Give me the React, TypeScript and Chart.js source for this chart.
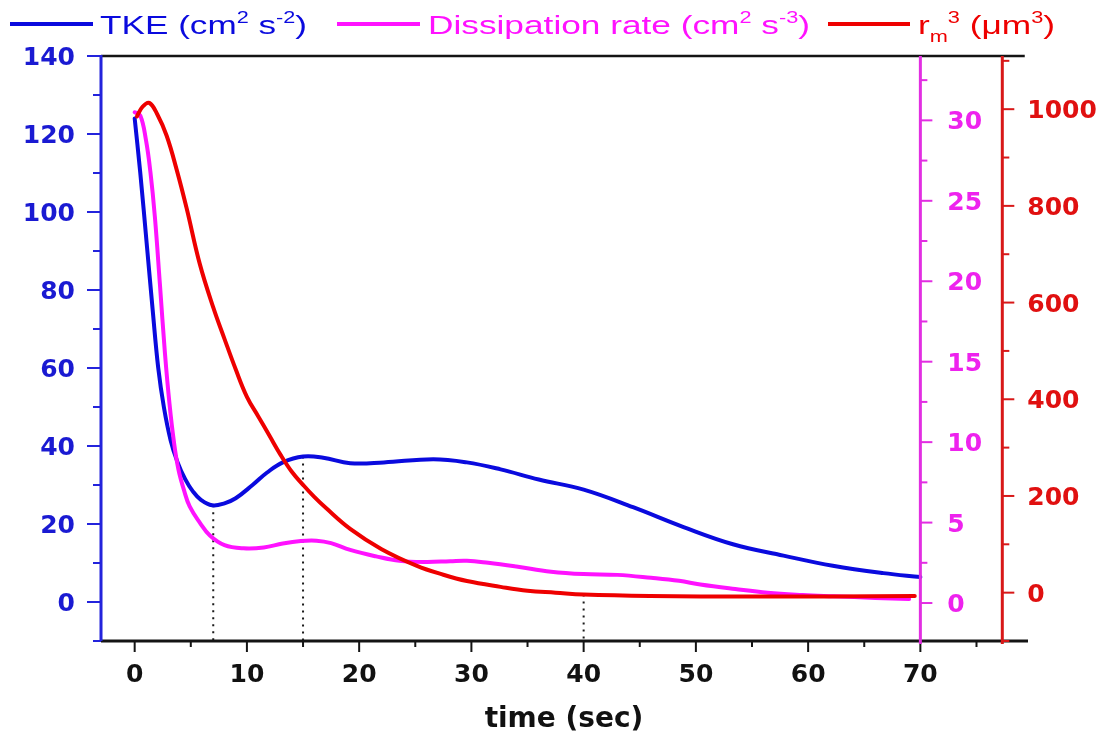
import React, { useEffect, useRef } from "react";
import { Chart, registerables } from "chart.js";

Chart.register(...registerables);

// ---- axis ranges ----
const TIME_MIN = -3;
const TIME_MAX = 79.5;
const TKE_MIN = -10;
const TKE_MAX = 140;
const DISS_MIN = -2.36;
const DISS_MAX = 34;
const RM3_MIN = -100;
const RM3_MAX = 1110;
const RM3_AXIS_AT = 77.3; // time value where the r_m^3 axis sits
const DISS_AXIS_AT = 70; // time value where the dissipation axis sits

// ---- tick values ----
const timeMajor = [0, 10, 20, 30, 40, 50, 60, 70];
const timeMinor = [5, 15, 25, 35, 45, 55, 65, 75];
const tkeMajor = [0, 20, 40, 60, 80, 100, 120, 140];
const tkeMinor = [-10, 10, 30, 50, 70, 90, 110, 130];
const dissMajor = [0, 5, 10, 15, 20, 25, 30];
const dissMinor = [2.5, 7.5, 12.5, 17.5, 22.5, 27.5, 32.5];
const rm3Major = [0, 200, 400, 600, 800, 1000];
const rm3Minor = [-100, 100, 300, 500, 700, 900, 1100];

// ---- TKE (cm^2 s^-2) ----
const tkeTime = [0, 0.5, 1.1, 1.6, 2.1, 2.6, 3.2, 3.8, 4.5, 5.2, 5.9, 6.9, 8.0, 9.0, 10.5, 11.8, 13.2, 15, 16.8, 19.2, 22.2, 26.6, 29.6, 32.6, 36, 40, 44.4, 48.9, 53.3, 57.8, 62.2, 66.7, 70];
const tkeValues = [124, 110, 91, 75, 60, 50, 41.5, 36, 31.5, 28.3, 26.2, 24.8, 25.3, 26.6, 30, 33.2, 35.8, 37.3, 37.0, 35.6, 35.8, 36.6, 35.8, 34.0, 31.4, 28.8, 24.3, 19.2, 14.8, 11.9, 9.3, 7.4, 6.4];

// ---- Dissipation rate (cm^2 s^-3) ----
const dissTime = [0, 0.5, 1.0, 1.4, 1.8, 2.25, 2.7, 3.1, 3.5, 3.9, 4.4, 4.9, 5.8, 6.7, 8.0, 9.7, 11.5, 13.2, 14.8, 16.2, 17.5, 19.2, 21.5, 23.6, 26.0, 28.1, 29.6, 31.5, 34.0, 37.1, 40.0, 43.0, 46.0, 48.5, 50.4, 53.5, 56.4, 59.5, 62.2, 66.0, 69.0];
const dissValues = [30.5, 30.3, 28.8, 26.8, 24.0, 19.8, 15.5, 12.4, 10.0, 8.3, 7.0, 6.0, 5.0, 4.2, 3.6, 3.4, 3.45, 3.7, 3.85, 3.87, 3.72, 3.3, 2.9, 2.62, 2.55, 2.6, 2.63, 2.5, 2.27, 1.95, 1.8, 1.75, 1.57, 1.38, 1.15, 0.87, 0.64, 0.5, 0.42, 0.32, 0.25];

// ---- r_m^3 (um^3) ----
const rm3Time = [0.2, 0.7, 1.3, 2.0, 2.85, 3.74, 4.63, 5.8, 7.0, 8.0, 9.0, 10.0, 11.0, 12.0, 13.0, 14.0, 15.0, 16.0, 17.0, 19.2, 22.0, 25.1, 27.5, 29.6, 32.6, 35.0, 37.5, 40.0, 45.9, 55.0, 62.0, 69.5];
const rm3Values = [985, 1005, 1013, 990, 945, 875, 795, 680, 590, 525, 462, 405, 365, 325, 285, 250, 223, 198, 176, 132, 90, 56, 37, 24, 12, 4, 0, -4, -7, -8, -8, -7];

// ---- dotted reference lines (time, top value) ----
const markerTkeTimes = [7, 15];
const markerTkeTops = [24.8, 37.3];
const markerRm3Time = 40;
const markerRm3Top = -4;

const BLUE = "#0a0ade";
const MAGENTA = "#ff12ff";
const RED = "#ee0000";
const BLUE_AXIS = "#2323dc";
const MAGENTA_AXIS = "#e22ee2";
const RED_AXIS = "#d81818";
const BLUE_TEXT = "#1a1ad2";
const MAGENTA_TEXT = "#ee22ee";
const RED_TEXT = "#e01010";

const zip = (xs: number[], ys: number[]) => xs.map((x, i) => ({ x, y: ys[i] }));

type Run = { text: string; kind: "n" | "sup" | "sub" };

function drawRuns(
  ctx: CanvasRenderingContext2D,
  runs: Run[],
  x: number,
  baseline: number,
  size: number,
  color: string,
  targetWidth: number
) {
  const small = Math.round(size * 0.62);
  const fontFor = (k: string) =>
    `${k === "n" ? size : small}px "Liberation Sans", Arial, sans-serif`;
  let total = 0;
  const widths: number[] = [];
  for (const r of runs) {
    ctx.font = fontFor(r.kind);
    const w = ctx.measureText(r.text).width;
    widths.push(w);
    total += w;
  }
  const sx = targetWidth / total;
  ctx.save();
  ctx.translate(x, baseline);
  ctx.scale(sx, 1);
  ctx.fillStyle = color;
  ctx.textBaseline = "alphabetic";
  ctx.textAlign = "left";
  let cx = 0;
  runs.forEach((r, i) => {
    ctx.font = fontFor(r.kind);
    const dy = r.kind === "sup" ? -size * 0.42 : r.kind === "sub" ? size * 0.3 : 0;
    ctx.fillText(r.text, cx, dy);
    cx += widths[i];
  });
  ctx.restore();
}

const legendItems = [
  {
    color: BLUE,
    lineFrom: 10,
    lineTo: 93,
    textFrom: 100,
    textTo: 307,
    runs: [
      { text: "TKE (cm", kind: "n" },
      { text: "2", kind: "sup" },
      { text: " s", kind: "n" },
      { text: "-2", kind: "sup" },
      { text: ")", kind: "n" },
    ] as Run[],
  },
  {
    color: MAGENTA,
    lineFrom: 337,
    lineTo: 420,
    textFrom: 428,
    textTo: 810,
    runs: [
      { text: "Dissipation rate (cm", kind: "n" },
      { text: "2", kind: "sup" },
      { text: " s", kind: "n" },
      { text: "-3", kind: "sup" },
      { text: ")", kind: "n" },
    ] as Run[],
  },
  {
    color: RED,
    lineFrom: 828,
    lineTo: 910,
    textFrom: 918,
    textTo: 1055,
    runs: [
      { text: "r", kind: "n" },
      { text: "m", kind: "sub" },
      { text: "3", kind: "sup" },
      { text: " (\u03bcm", kind: "n" },
      { text: "3", kind: "sup" },
      { text: ")", kind: "n" },
    ] as Run[],
  },
];

const frameAndAxes = {
  id: "frameAndAxes",
  afterDraw(chart: any) {
    const { ctx, chartArea: a, scales } = chart;
    const xs = scales.x;
    const yT = scales.yTke;
    const yD = scales.yDiss;
    const yR = scales.yRm3;
    const seg = (x1: number, y1: number, x2: number, y2: number) => {
      ctx.beginPath();
      ctx.moveTo(x1, y1);
      ctx.lineTo(x2, y2);
      ctx.stroke();
    };
    const numFont = 'bold 25px "DejaVu Sans", Verdana, sans-serif';
    const capHalf = 25 * 0.729 * 0.5;

    ctx.save();
    ctx.lineCap = "butt";

    // top frame line and time axis
    ctx.strokeStyle = "#141414";
    ctx.lineWidth = 2.5;
    seg(a.left, a.top, xs.getPixelForValue(79.3), a.top);
    ctx.lineWidth = 3;
    seg(a.left, a.bottom, a.right + 1, a.bottom);
    ctx.lineWidth = 2;
    timeMajor.forEach((t) => {
      const px = xs.getPixelForValue(t);
      seg(px, a.bottom, px, a.bottom + 11);
    });
    timeMinor.forEach((t) => {
      const px = xs.getPixelForValue(t);
      seg(px, a.bottom, px, a.bottom + 6);
    });
    ctx.fillStyle = "#111";
    ctx.font = numFont;
    ctx.textAlign = "center";
    ctx.textBaseline = "alphabetic";
    timeMajor.forEach((t) => {
      ctx.fillText(String(t), xs.getPixelForValue(t), 682);
    });
    ctx.font = 'bold 28px "DejaVu Sans", Verdana, sans-serif';
    ctx.fillText("time (sec)", (a.left + a.right) / 2, 727);

    // TKE axis (left)
    ctx.strokeStyle = BLUE_AXIS;
    ctx.lineWidth = 3;
    seg(a.left, a.top - 1, a.left, a.bottom);
    ctx.lineWidth = 2;
    tkeMajor.forEach((v) => {
      const py = yT.getPixelForValue(v);
      seg(a.left - 14, py, a.left, py);
    });
    tkeMinor.forEach((v) => {
      const py = yT.getPixelForValue(v);
      seg(a.left - 8, py, a.left, py);
    });
    ctx.fillStyle = BLUE_TEXT;
    ctx.font = numFont;
    ctx.textAlign = "right";
    tkeMajor.forEach((v) => {
      ctx.fillText(String(v), a.left - 26, yT.getPixelForValue(v) + capHalf);
    });

    // dissipation axis
    const xd = xs.getPixelForValue(DISS_AXIS_AT);
    ctx.strokeStyle = MAGENTA_AXIS;
    ctx.lineWidth = 3;
    seg(xd, a.top, xd, a.bottom + 3);
    ctx.lineWidth = 2;
    dissMajor.forEach((v) => {
      const py = yD.getPixelForValue(v);
      seg(xd, py, xd + 12, py);
    });
    dissMinor.forEach((v) => {
      const py = yD.getPixelForValue(v);
      seg(xd, py, xd + 7, py);
    });
    ctx.fillStyle = MAGENTA_TEXT;
    ctx.textAlign = "left";
    dissMajor.forEach((v) => {
      ctx.fillText(String(v), xd + 27, yD.getPixelForValue(v) + capHalf);
    });

    // r_m^3 axis
    const xr = xs.getPixelForValue(RM3_AXIS_AT);
    ctx.strokeStyle = RED_AXIS;
    ctx.lineWidth = 3;
    seg(xr, a.top, xr, a.bottom + 3);
    ctx.lineWidth = 2;
    rm3Major.forEach((v) => {
      const py = yR.getPixelForValue(v);
      seg(xr, py, xr + 12, py);
    });
    rm3Minor.forEach((v) => {
      const py = yR.getPixelForValue(v);
      seg(xr, py, xr + 7, py);
    });
    ctx.fillStyle = RED_TEXT;
    rm3Major.forEach((v) => {
      ctx.fillText(String(v), xr + 25, yR.getPixelForValue(v) + capHalf);
    });

    // legend
    legendItems.forEach((it) => {
      ctx.strokeStyle = it.color;
      ctx.lineWidth = 4;
      seg(it.lineFrom, 24, it.lineTo, 24);
      drawRuns(ctx, it.runs, it.textFrom, 34, 26, it.color, it.textTo - it.textFrom);
    });

    ctx.restore();
  },
};

export default function App() {
  const ref = useRef<HTMLCanvasElement>(null);

  useEffect(() => {
    document.body.style.margin = "0";
    const canvas = ref.current;
    if (!canvas) return;

    const dotted = {
      borderColor: "#1a1a1a",
      borderWidth: 2,
      borderDash: [2, 5],
      pointRadius: 0,
      tension: 0,
      fill: false,
    };

    const curve = {
      borderWidth: 4,
      pointRadius: 0,
      tension: 0.4,
      borderCapStyle: "round",
      borderJoinStyle: "round",
      fill: false,
    };

    const chart = new Chart(canvas, {
      type: "line",
      data: {
        datasets: [
          {
            ...curve,
            label: "r_m^3",
            data: zip(rm3Time, rm3Values),
            yAxisID: "yRm3",
            borderColor: RED,
          },
          {
            ...curve,
            label: "Dissipation rate",
            data: zip(dissTime, dissValues),
            yAxisID: "yDiss",
            borderColor: MAGENTA,
          },
          {
            ...curve,
            label: "TKE",
            data: zip(tkeTime, tkeValues),
            yAxisID: "yTke",
            borderColor: BLUE,
          },
          ...markerTkeTimes.map((t, i) => ({
            ...dotted,
            label: `t=${t}`,
            yAxisID: "yTke",
            data: [
              { x: t, y: markerTkeTops[i] },
              { x: t, y: TKE_MIN },
            ],
          })),
          {
            ...dotted,
            label: `t=${markerRm3Time}`,
            yAxisID: "yRm3",
            data: [
              { x: markerRm3Time, y: markerRm3Top },
              { x: markerRm3Time, y: RM3_MIN },
            ],
          },
        ] as any,
      },
      options: {
        responsive: false,
        animation: false,
        events: [],
        layout: { padding: { left: 101, right: 77, top: 56, bottom: 98 } },
        plugins: {
          legend: { display: false },
          tooltip: { enabled: false },
        },
        scales: {
          x: { type: "linear", min: TIME_MIN, max: TIME_MAX, display: false },
          yTke: { type: "linear", min: TKE_MIN, max: TKE_MAX, display: false },
          yDiss: { type: "linear", min: DISS_MIN, max: DISS_MAX, display: false },
          yRm3: { type: "linear", min: RM3_MIN, max: RM3_MAX, display: false },
        },
      } as any,
      plugins: [frameAndAxes],
    });

    return () => chart.destroy();
  }, []);

  return (
    <div style={{ width: 1104, height: 739, background: "#fff" }}>
      <canvas ref={ref} width={1104} height={739} style={{ display: "block" }} />
    </div>
  );
}
